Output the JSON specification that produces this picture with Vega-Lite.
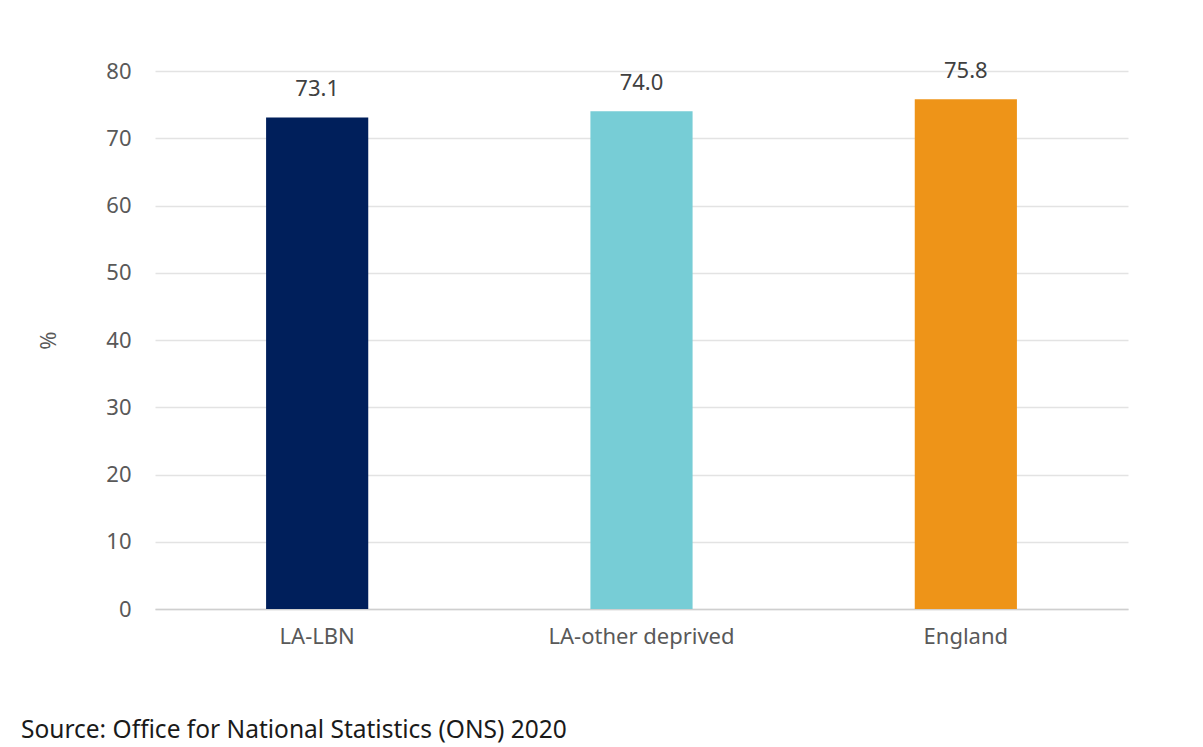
{
  "$schema": "https://vega.github.io/schema/vega-lite/v6.json",
  "autosize": {"type": "none"},
  "width": 973,
  "height": 538,
  "padding": {"left": 155, "top": 71, "right": 75, "bottom": 138},
  "background": "white",
  "config": {"view": {"stroke": null}, "font": "Noto Sans"},
  "title": {
    "text": "Source: Office for National Statistics (ONS) 2020",
    "orient": "bottom",
    "anchor": "start",
    "frame": "group",
    "dx": -134,
    "offset": 72,
    "fontSize": 24.5,
    "fontWeight": "normal",
    "color": "#1a1a1a",
    "font": "Noto Sans"
  },
  "data": {
    "values": [
      {"area": "LA-LBN", "value": 73.1},
      {"area": "LA-other deprived", "value": 74.0},
      {"area": "England", "value": 75.8}
    ]
  },
  "encoding": {
    "x": {
      "field": "area",
      "type": "nominal",
      "sort": null,
      "scale": {"paddingInner": 0.685, "paddingOuter": 0.3425},
      "axis": {
        "title": null,
        "labelAngle": 0,
        "labelFontSize": 22,
        "labelColor": "#595959",
        "labelPadding": 17,
        "labelLimit": 400,
        "ticks": false,
        "domainColor": "#cfcfcf",
        "domainWidth": 1.5
      }
    },
    "y": {
      "field": "value",
      "type": "quantitative",
      "scale": {"domain": [0, 80]},
      "axis": {
        "title": "%",
        "titleFontSize": 22,
        "titleFontWeight": "normal",
        "titleColor": "#595959",
        "titlePadding": 45,
        "values": [0, 10, 20, 30, 40, 50, 60, 70, 80],
        "labelFontSize": 22,
        "labelColor": "#595959",
        "labelPadding": 24,
        "ticks": false,
        "domain": false,
        "gridColor": "#e3e3e3",
        "gridWidth": 1.5
      }
    }
  },
  "layer": [
    {
      "mark": {"type": "bar"},
      "encoding": {
        "color": {
          "field": "area",
          "type": "nominal",
          "scale": {
            "domain": ["LA-LBN", "LA-other deprived", "England"],
            "range": ["#001f5b", "#77cdd6", "#ee9418"]
          },
          "legend": null
        }
      }
    },
    {
      "mark": {"type": "text", "dy": -28, "fontSize": 22, "color": "#404040", "baseline": "middle"},
      "encoding": {
        "text": {"field": "value", "type": "quantitative", "format": ".1f"}
      }
    }
  ]
}
